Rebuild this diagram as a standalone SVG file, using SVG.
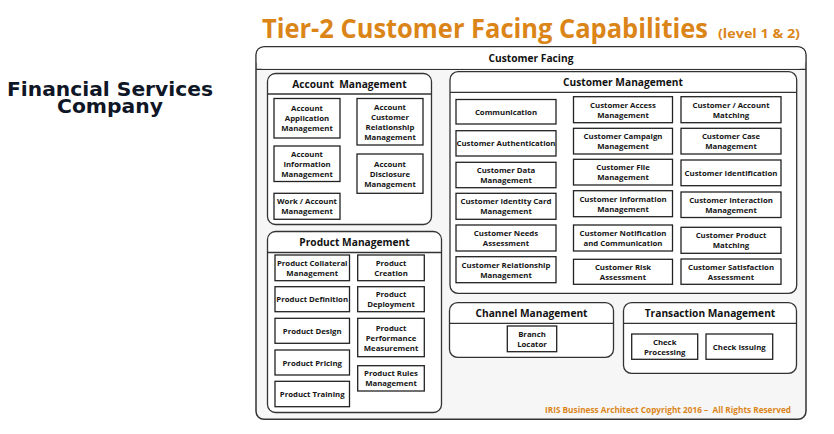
<svg xmlns="http://www.w3.org/2000/svg" width="834" height="434" viewBox="0 0 834 434">
<style>
.grp{fill:#fff;stroke:#333;stroke-width:1.3}
.outer{fill:#f6f6f6;stroke:#333;stroke-width:1.5}
.hl{stroke:#333;stroke-width:1.3}
.box{fill:#fff;stroke:#222;stroke-width:1.3}
.t{font-family:"Open Sans","Noto Sans","DejaVu Sans",sans-serif;font-size:7.8px;font-weight:700;fill:#151515;text-anchor:middle}
.h{font-family:"Open Sans","Noto Sans","DejaVu Sans",sans-serif;font-size:10.2px;font-weight:700;fill:#111;text-anchor:middle}
.org{font-family:"Open Sans","Noto Sans",sans-serif;font-weight:700;fill:#DB8519}
.fs{font-family:"DejaVu Sans","Verdana",sans-serif;font-size:19.5px;font-weight:700;fill:#0f1626;text-anchor:middle}
</style>
<rect width="834" height="434" fill="#fff"/>
<g id="title">
<text class="org" x="262" y="38" font-size="26" textLength="446" lengthAdjust="spacingAndGlyphs">Tier-2 Customer Facing Capabilities</text>
<text class="org" x="718" y="38" font-size="12.5" textLength="82" lengthAdjust="spacingAndGlyphs">(level 1 &amp; 2)</text>
</g>
<g id="company">
<text class="fs" x="110" y="96" textLength="206" lengthAdjust="spacingAndGlyphs">Financial Services</text>
<text class="fs" x="110" y="112.5" textLength="106" lengthAdjust="spacingAndGlyphs">Company</text>
</g>
<g id="customer-facing">
<rect class="outer" x="256" y="46.7" width="550" height="372.6" rx="8"/>
<path d="M256,69.3 H806" class="hl"/>
<rect x="256.8" y="47.5" width="548.4" height="21.2" rx="7" fill="#fff"/>
<text class="h" x="531" y="62">Customer Facing</text>
<text class="org" x="791" y="412.5" font-size="8.2" text-anchor="end" textLength="246" lengthAdjust="spacingAndGlyphs" xml:space="preserve">IRIS Business Architect Copyright 2016 –  All Rights Reserved</text>
</g>
<g id="account-management">
<rect class="grp" x="267.5" y="73.5" width="164" height="151" rx="8"/>
<path d="M267.5,94 H431.5" class="hl"/>
<text class="h" x="349.5" y="87.5" xml:space="preserve">Account  Management</text>
</g>
<g id="account-application-management"><rect class="box" x="274" y="98.5" width="66" height="39.5"/><text class="t" x="307" y="111">Account</text><text class="t" x="307" y="121">Application</text><text class="t" x="307" y="131">Management</text></g>
<g id="account-customer-relationship-management"><rect class="box" x="357" y="98.5" width="66" height="46.5"/><text class="t" x="390" y="109.7">Account</text><text class="t" x="390" y="119.7">Customer</text><text class="t" x="390" y="129.7">Relationship</text><text class="t" x="390" y="139.7">Management</text></g>
<g id="account-information-management"><rect class="box" x="274" y="146" width="66" height="35.5"/><text class="t" x="307" y="156.8">Account</text><text class="t" x="307" y="166.8">Information</text><text class="t" x="307" y="176.8">Management</text></g>
<g id="account-disclosure-management"><rect class="box" x="357" y="154" width="66" height="39.3"/><text class="t" x="390" y="166.7">Account</text><text class="t" x="390" y="176.7">Disclosure</text><text class="t" x="390" y="186.7">Management</text></g>
<g id="work-account-management"><rect class="box" x="274" y="193.3" width="66" height="26"/><text class="t" x="307" y="204.3">Work / Account</text><text class="t" x="307" y="214.3">Management</text></g>

<g id="product-management">
<rect class="grp" x="267.5" y="231.5" width="174" height="181" rx="8"/>
<path d="M267.5,252.5 H441.5" class="hl"/>
<text class="h" x="354.5" y="245.7">Product Management</text>
</g>
<g id="product-collateral-management"><rect class="box" x="275" y="255" width="74.5" height="25.7"/><text class="t" x="312.2" y="265.8">Product Collateral</text><text class="t" x="312.2" y="275.8">Management</text></g>
<g id="product-definition"><rect class="box" x="275" y="286.7" width="74.5" height="25"/><text class="t" x="312.2" y="302.2">Product Definition</text></g>
<g id="product-design"><rect class="box" x="275" y="318.3" width="74.5" height="25"/><text class="t" x="312.2" y="333.8">Product Design</text></g>
<g id="product-pricing"><rect class="box" x="275" y="350" width="74.5" height="25"/><text class="t" x="312.2" y="365.5">Product Pricing</text></g>
<g id="product-training"><rect class="box" x="275" y="381.3" width="74.5" height="25.4"/><text class="t" x="312.2" y="397">Product Training</text></g>
<g id="product-creation"><rect class="box" x="357.7" y="255" width="66.6" height="25.7"/><text class="t" x="391" y="265.8">Product</text><text class="t" x="391" y="275.8">Creation</text></g>
<g id="product-deployment"><rect class="box" x="357.7" y="286.7" width="66.6" height="25"/><text class="t" x="391" y="297.2">Product</text><text class="t" x="391" y="307.2">Deployment</text></g>
<g id="product-performance-measurement"><rect class="box" x="357.7" y="318.3" width="66.6" height="38.4"/><text class="t" x="391" y="330.5">Product</text><text class="t" x="391" y="340.5">Performance</text><text class="t" x="391" y="350.5">Measurement</text></g>
<g id="product-rules-management"><rect class="box" x="357.7" y="365.7" width="66.6" height="25.3"/><text class="t" x="391" y="376.3">Product Rules</text><text class="t" x="391" y="386.3">Management</text></g>

<g id="customer-management">
<rect class="grp" x="450" y="71.7" width="346.7" height="221.6" rx="8"/>
<path d="M450,92.3 H796.7" class="hl"/>
<text class="h" x="623" y="85.7">Customer Management</text>
</g>
<g id="communication"><rect class="box" x="456" y="99.5" width="100" height="24.5"/><text class="t" x="506" y="114.8">Communication</text></g>
<g id="customer-authentication"><rect class="box" x="456" y="130.7" width="100" height="25.3"/><text class="t" x="506" y="146.3">Customer Authentication</text></g>
<g id="customer-data-management"><rect class="box" x="456" y="162.3" width="100" height="25.4"/><text class="t" x="506" y="173">Customer Data</text><text class="t" x="506" y="183">Management</text></g>
<g id="customer-identity-card-management"><rect class="box" x="456" y="193.3" width="100" height="26"/><text class="t" x="506" y="204.3">Customer Identity Card</text><text class="t" x="506" y="214.3">Management</text></g>
<g id="customer-needs-assessment"><rect class="box" x="456" y="225" width="100" height="26"/><text class="t" x="506" y="236">Customer Needs</text><text class="t" x="506" y="246">Assessment</text></g>
<g id="customer-relationship-management"><rect class="box" x="456" y="256.7" width="100" height="26"/><text class="t" x="506" y="267.7">Customer Relationship</text><text class="t" x="506" y="277.7">Management</text></g>

<g id="customer-access-management"><rect class="box" x="573.5" y="96.7" width="99" height="26"/><text class="t" x="623" y="107.7">Customer Access</text><text class="t" x="623" y="117.7">Management</text></g>
<g id="customer-campaign-management"><rect class="box" x="573.5" y="128.3" width="99" height="25.7"/><text class="t" x="623" y="139.2">Customer Campaign</text><text class="t" x="623" y="149.2">Management</text></g>
<g id="customer-file-management"><rect class="box" x="573.5" y="159.3" width="99" height="25.7"/><text class="t" x="623" y="170.2">Customer File</text><text class="t" x="623" y="180.2">Management</text></g>
<g id="customer-information-management"><rect class="box" x="573.5" y="190.7" width="99" height="26"/><text class="t" x="623" y="201.7">Customer Information</text><text class="t" x="623" y="211.7">Management</text></g>
<g id="customer-notification-and-communication"><rect class="box" x="573.5" y="225" width="99" height="26"/><text class="t" x="623" y="236">Customer Notification</text><text class="t" x="623" y="246">and Communication</text></g>
<g id="customer-risk-assessment"><rect class="box" x="573.5" y="259.3" width="99" height="25"/><text class="t" x="623" y="269.8">Customer Risk</text><text class="t" x="623" y="279.8">Assessment</text></g>

<g id="customer-account-matching"><rect class="box" x="681" y="96.7" width="100" height="26"/><text class="t" x="731" y="107.7">Customer / Account</text><text class="t" x="731" y="117.7">Matching</text></g>
<g id="customer-case-management"><rect class="box" x="681" y="128.3" width="100" height="25.7"/><text class="t" x="731" y="139.2">Customer Case</text><text class="t" x="731" y="149.2">Management</text></g>
<g id="customer-identification"><rect class="box" x="681" y="160" width="100" height="25.7"/><text class="t" x="731" y="175.8">Customer Identification</text></g>
<g id="customer-interaction-management"><rect class="box" x="681" y="192" width="100" height="25.5"/><text class="t" x="731" y="202.8">Customer Interaction</text><text class="t" x="731" y="212.8">Management</text></g>
<g id="customer-product-matching"><rect class="box" x="681" y="227.3" width="100" height="26"/><text class="t" x="731" y="238.3">Customer Product</text><text class="t" x="731" y="248.3">Matching</text></g>
<g id="customer-satisfaction-assessment"><rect class="box" x="681" y="259" width="100" height="25.3"/><text class="t" x="731" y="269.7">Customer Satisfaction</text><text class="t" x="731" y="279.7">Assessment</text></g>

<g id="channel-management">
<rect class="grp" x="449.5" y="302.7" width="164" height="54.6" rx="8"/>
<path d="M449.5,323.3 H613.5" class="hl"/>
<text class="h" x="531.5" y="316.8">Channel Management</text>
</g>
<g id="branch-locator"><rect class="box" x="507.3" y="326" width="49.4" height="25.7"/><text class="t" x="532" y="336.8">Branch</text><text class="t" x="532" y="346.8">Locator</text></g>

<g id="transaction-management">
<rect class="grp" x="623.5" y="302.7" width="173" height="70.6" rx="8"/>
<path d="M623.5,323.3 H796.5" class="hl"/>
<text class="h" x="710" y="316.8">Transaction Management</text>
</g>
<g id="check-processing"><rect class="box" x="631.7" y="334" width="66" height="25.3"/><text class="t" x="664.7" y="344.7">Check</text><text class="t" x="664.7" y="354.7">Processing</text></g>
<g id="check-issuing"><rect class="box" x="706" y="334" width="66.7" height="25.3"/><text class="t" x="739.3" y="349.7">Check Issuing</text></g>
<g id="connectors"></g>
</svg>
